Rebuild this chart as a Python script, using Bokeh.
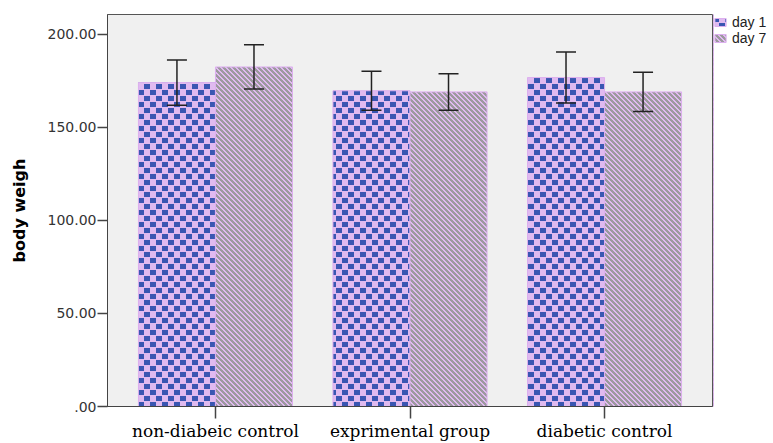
import base64, struct, zlib
from bokeh.plotting import figure
from bokeh.layouts import row
from bokeh.models import (ColumnDataSource, FactorRange, Range1d, FixedTicker, Whisker,
                          TeeHead, Legend, LegendItem, ImageURLTexture)
from bokeh.transform import dodge
from bokeh.core.properties import value
from bokeh.embed import file_html
from bokeh.resources import INLINE

# ---- data ----
groups = ["non-diabeic control", "exprimental group", "diabetic control"]
series = ["day 1", "day 7"]
day1_mean = [174.1, 169.7, 176.8]
day1_err = [12.2, 10.5, 13.7]
day7_mean = [182.5, 169.1, 169.1]
day7_err = [11.9, 9.8, 10.5]
y_ticks = [0, 50, 100, 150, 200]
y_tick_labels = [".00", "50.00", "100.00", "150.00", "200.00"]
y_title = "body weigh"

# ---- pattern textures (tiny PNGs) ----
def png_data_url(w, h, pix):
    raw = b"".join(b"\x00" + bytes([c for p in r for c in p]) for r in pix)
    def chunk(t, d):
        c = struct.pack(">I", len(d)) + t + d
        return c + struct.pack(">I", zlib.crc32(t + d) & 0xffffffff)
    png = b"\x89PNG\r\n\x1a\n" + chunk(b"IHDR", struct.pack(">IIBBBBB", w, h, 8, 2, 0, 0, 0)) \
        + chunk(b"IDAT", zlib.compress(raw)) + chunk(b"IEND", b"")
    return "data:image/png;base64," + base64.b64encode(png).decode()

PINK = (224, 186, 240)
BLUE = (58, 86, 178)
GRAY = (156, 154, 158)

n = 12
checker = [[BLUE if ((x < 6 and y < 5) or (x >= 6 and 6 <= y < 11)) else PINK
            for x in range(n)] for y in range(n)]
m = 5
stripes = [[GRAY if ((x - y) % m) in (0, 1, 2) else PINK for x in range(m)] for y in range(m)]
url_checker = png_data_url(n, n, checker)
url_stripes = png_data_url(m, m, stripes)

src = ColumnDataSource(dict(
    group=groups,
    d1=day1_mean, d1_lo=[a - b for a, b in zip(day1_mean, day1_err)], d1_hi=[a + b for a, b in zip(day1_mean, day1_err)],
    d7=day7_mean, d7_lo=[a - b for a, b in zip(day7_mean, day7_err)], d7_hi=[a + b for a, b in zip(day7_mean, day7_err)],
))

p = figure(width=713, height=443, output_backend="svg", toolbar_location=None,
           x_range=FactorRange(*groups, range_padding=0.055, range_padding_units="absolute"),
           y_range=Range1d(0, 210.7),
           min_border_left=107, min_border_top=13, min_border_bottom=36, min_border_right=1)
p.background_fill_color = "#f0f0f0"
p.border_fill_color = "white"
p.outline_line_color = "#555555"
p.outline_line_width = 1
p.xgrid.visible = False
p.ygrid.visible = False

bar_style = dict(fill_color="#e0baf0", line_color="#dcb0ee", line_width=1, hatch_alpha=1.0)
off = 0.198
bw = 0.396
r1 = p.vbar(x=dodge("group", -off, range=p.x_range), top="d1", width=bw, source=src,
            hatch_pattern=value("checker"),
            hatch_extra={"checker": ImageURLTexture(url=url_checker, repetition="repeat")}, **bar_style)
r7 = p.vbar(x=dodge("group", off, range=p.x_range), top="d7", width=bw, source=src,
            hatch_pattern=value("stripes"),
            hatch_extra={"stripes": ImageURLTexture(url=url_stripes, repetition="repeat")}, **bar_style)

for key, o in (("d1", -off), ("d7", off)):
    w = Whisker(base=dodge("group", o, range=p.x_range), upper=key + "_hi", lower=key + "_lo", source=src,
                line_color="#222222", line_width=1.5, level="annotation",
                upper_head=TeeHead(size=20, line_color="#222222", line_width=1.5),
                lower_head=TeeHead(size=20, line_color="#222222", line_width=1.5))
    p.add_layout(w)

# y axis
ya = p.yaxis[0]
ya.ticker = FixedTicker(ticks=y_ticks)
ya.major_label_overrides = {t: l for t, l in zip(y_ticks, y_tick_labels)}
ya.minor_tick_line_color = None
ya.major_tick_in = 0
ya.major_tick_out = 10
ya.major_tick_line_color = "#444444"
ya.major_tick_line_width = 1.5
ya.axis_line_color = "#444444"
ya.major_label_standoff = 1
ya.major_label_text_font = "DejaVu Sans"
ya.major_label_text_font_size = "14px"
ya.major_label_text_color = "#333333"
ya.axis_label = y_title
ya.axis_label_text_font = "DejaVu Sans"
ya.axis_label_text_font_style = "bold"
ya.axis_label_text_font_size = "16px"
ya.axis_label_text_color = "black"
ya.axis_label_standoff = 16

# x axis
xa = p.xaxis[0]
xa.major_tick_in = 0
xa.major_tick_out = 12
xa.major_tick_line_color = "#444444"
xa.major_tick_line_width = 1.5
xa.axis_line_color = "#444444"
xa.major_label_standoff = 2
xa.major_label_text_font = "DejaVu Serif"
xa.major_label_text_font_size = "17px"
xa.major_label_text_color = "black"

# ---- legend panel (separate narrow figure to the right) ----
pl = figure(width=60, height=443, output_backend="svg", toolbar_location=None,
            x_range=Range1d(0, 1), y_range=Range1d(0, 1),
            min_border_left=0, min_border_right=0, min_border_top=14, min_border_bottom=0)
pl.axis.visible = False
pl.grid.visible = False
pl.outline_line_color = None
pl.background_fill_color = "white"
pl.border_fill_color = "white"
# legend-only proxies: one bar each, placed outside the visible range
k1 = pl.vbar(x=[-10], top=[1], width=0.1, hatch_pattern=value("checker"),
             hatch_extra={"checker": ImageURLTexture(url=url_checker, repetition="repeat")}, **bar_style)
k7 = pl.vbar(x=[-10], top=[1], width=0.1, hatch_pattern=value("stripes"),
             hatch_extra={"stripes": ImageURLTexture(url=url_stripes, repetition="repeat")}, **bar_style)
legend = Legend(items=[LegendItem(label=series[0], renderers=[k1]),
                       LegendItem(label=series[1], renderers=[k7])],
                location="top_left", margin=0, padding=0, spacing=0,
                glyph_width=14, glyph_height=10, label_height=16, label_standoff=5,
                label_text_font="Liberation Sans", label_text_font_size="14px",
                label_text_color="#222222", border_line_color=None, background_fill_alpha=0)
pl.add_layout(legend, "center")

layout = row(p, pl, spacing=0)
open("out.html", "w").write(file_html(layout, INLINE))
